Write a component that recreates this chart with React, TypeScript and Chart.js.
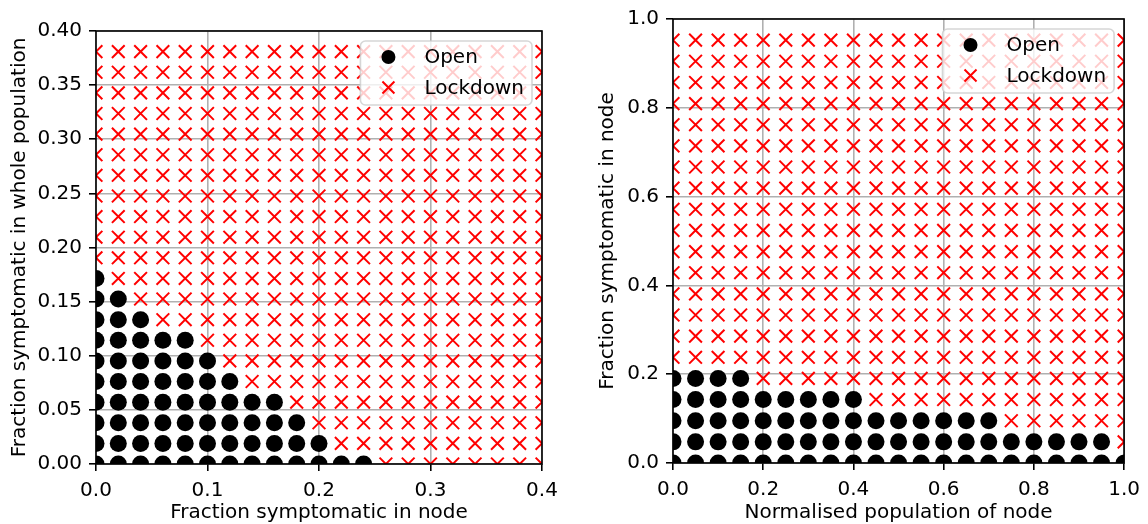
import React, { useEffect, useRef } from "react";
import { Chart, registerables } from "chart.js";

Chart.register(...registerables);

// ---------- data ----------
// Left panel: grid of evaluated points
const leftX = [0, 0.02, 0.04, 0.06, 0.08, 0.1, 0.12, 0.14, 0.16, 0.18, 0.2, 0.22, 0.24, 0.26, 0.28, 0.3, 0.32, 0.34, 0.36, 0.38, 0.4];
const leftY = [0, 0.019, 0.0381, 0.0571, 0.0762, 0.0952, 0.1143, 0.1333, 0.1524, 0.1714, 0.1905, 0.2095, 0.2286, 0.2476, 0.2667, 0.2857, 0.3048, 0.3238, 0.3429, 0.3619, 0.381];
// number of "Open" columns (from x = 0) in each row, bottom row first
const leftOpenPerRow = [13, 11, 10, 9, 7, 6, 5, 3, 2, 1, 0, 0, 0, 0, 0, 0, 0, 0, 0, 0, 0];
const leftXTicks = [0, 0.1, 0.2, 0.3, 0.4];
const leftYTicks = [0, 0.05, 0.1, 0.15, 0.2, 0.25, 0.3, 0.35, 0.4];

// Right panel
const rightX = [0, 0.05, 0.1, 0.15, 0.2, 0.25, 0.3, 0.35, 0.4, 0.45, 0.5, 0.55, 0.6, 0.65, 0.7, 0.75, 0.8, 0.85, 0.9, 0.95, 1.0];
const rightY = [0, 0.0476, 0.0952, 0.1429, 0.1905, 0.2381, 0.2857, 0.3333, 0.381, 0.4286, 0.4762, 0.5238, 0.5714, 0.619, 0.6667, 0.7143, 0.7619, 0.8095, 0.8571, 0.9048, 0.9524];
const rightOpenPerRow = [21, 20, 15, 9, 4, 0, 0, 0, 0, 0, 0, 0, 0, 0, 0, 0, 0, 0, 0, 0, 0];
const rightXTicks = [0, 0.2, 0.4, 0.6, 0.8, 1.0];
const rightYTicks = [0, 0.2, 0.4, 0.6, 0.8, 1.0];

const seriesLabels = ["Open", "Lockdown"];

// ---------- helpers ----------
function split(xs: number[], ys: number[], openPerRow: number[]) {
  const open: { x: number; y: number }[] = [];
  const lock: { x: number; y: number }[] = [];
  ys.forEach((y, r) => {
    xs.forEach((x, c) => {
      if (c < openPerRow[r]) open.push({ x, y });
      else lock.push({ x, y });
    });
  });
  return { open, lock };
}

const FONT = "'DejaVu Sans', 'Liberation Sans', sans-serif";

const framePlugin = {
  id: "frameLegend",
  afterDatasetsDraw(chart: any) {
    const { ctx, chartArea: a } = chart;
    ctx.save();
    // spines
    ctx.strokeStyle = "#000";
    ctx.lineWidth = 1.6;
    ctx.strokeRect(a.left, a.top, a.right - a.left, a.bottom - a.top);

    // legend box
    ctx.font = `20px ${FONT}`;
    const labels: string[] = chart.data.datasets.map((d: any) => d.label);
    const tw = Math.max(...labels.map((t) => ctx.measureText(t).width));
    const pad = 8, handle = 40, gap = 16;
    const w = pad * 2 + handle + gap + tw;
    const h = 64;
    const x0 = a.right - 10 - w;
    const y0 = a.top + 10;
    const r = 5;
    ctx.beginPath();
    ctx.moveTo(x0 + r, y0);
    ctx.lineTo(x0 + w - r, y0);
    ctx.arcTo(x0 + w, y0, x0 + w, y0 + r, r);
    ctx.lineTo(x0 + w, y0 + h - r);
    ctx.arcTo(x0 + w, y0 + h, x0 + w - r, y0 + h, r);
    ctx.lineTo(x0 + r, y0 + h);
    ctx.arcTo(x0, y0 + h, x0, y0 + h - r, r);
    ctx.lineTo(x0, y0 + r);
    ctx.arcTo(x0, y0, x0 + r, y0, r);
    ctx.closePath();
    ctx.fillStyle = "rgba(255,255,255,0.8)";
    ctx.fill();
    ctx.strokeStyle = "rgba(204,204,204,0.8)";
    ctx.lineWidth = 1.6;
    ctx.stroke();

    labels.forEach((t, i) => {
      const cy = y0 + 16 + i * 30.5;
      const cx = x0 + pad + handle / 2;
      if (i === 0) {
        ctx.beginPath();
        ctx.arc(cx, cy, 7, 0, Math.PI * 2);
        ctx.fillStyle = "#000";
        ctx.fill();
      } else {
        const d = 6;
        ctx.beginPath();
        ctx.moveTo(cx - d, cy - d);
        ctx.lineTo(cx + d, cy + d);
        ctx.moveTo(cx - d, cy + d);
        ctx.lineTo(cx + d, cy - d);
        ctx.strokeStyle = "#ff0000";
        ctx.lineWidth = 2;
        ctx.stroke();
      }
      ctx.fillStyle = "#000";
      ctx.textBaseline = "middle";
      ctx.textAlign = "left";
      ctx.fillText(t, x0 + pad + handle + gap, cy + 1);
    });
    ctx.restore();
  },
};

function makeConfig(opts: {
  xs: number[]; ys: number[]; openPerRow: number[];
  xMax: number; yMax: number; xTicks: number[]; yTicks: number[];
  xDigits: number; yDigits: number;
  xTitle: string; yTitle: string;
  padding: { left: number; right: number; top: number; bottom: number };
  yWidth: number; xHeight: number; yTitlePad: number;
}) {
  const { open, lock } = split(opts.xs, opts.ys, opts.openPerRow);
  const gridCommon = {
    color: "#b0b0b0",
    lineWidth: 1.6,
    drawTicks: true,
    tickLength: 7,
    tickColor: "#000",
    tickWidth: 1.6,
  };
  return {
    type: "scatter" as const,
    data: {
      datasets: [
        {
          label: seriesLabels[0],
          data: open,
          pointStyle: "circle",
          pointRadius: 8.5,
          backgroundColor: "#000",
          borderColor: "#000",
          borderWidth: 0,
          clip: 0,
        },
        {
          label: seriesLabels[1],
          data: lock,
          pointStyle: "crossRot",
          pointRadius: 9,
          backgroundColor: "#ff0000",
          borderColor: "#ff0000",
          borderWidth: 2,
          clip: 0,
        },
      ],
    },
    options: {
      animation: false,
      responsive: false,
      events: [],
      layout: { padding: opts.padding },
      plugins: { legend: { display: false }, tooltip: { enabled: false } },
      scales: {
        x: {
          type: "linear",
          min: 0,
          max: opts.xMax,
          afterBuildTicks: (s: any) => {
            s.ticks = opts.xTicks.map((v) => ({ value: v }));
          },
          afterFit: (s: any) => {
            s.height = opts.xHeight;
          },
          grid: gridCommon,
          border: { display: false },
          ticks: {
            autoSkip: false,
            maxRotation: 0,
            padding: 8,
            color: "#000",
            font: { family: FONT, size: 20 },
            callback: (v: any) => Number(v).toFixed(opts.xDigits),
          },
          title: {
            display: true,
            text: opts.xTitle,
            color: "#000",
            font: { family: FONT, size: 20 },
            padding: { top: 0, bottom: -1 },
          },
        },
        y: {
          type: "linear",
          min: 0,
          max: opts.yMax,
          afterBuildTicks: (s: any) => {
            s.ticks = opts.yTicks.map((v) => ({ value: v }));
          },
          afterFit: (s: any) => {
            s.width = opts.yWidth;
          },
          grid: gridCommon,
          border: { display: false },
          ticks: {
            autoSkip: false,
            padding: 7,
            color: "#000",
            font: { family: FONT, size: 20 },
            callback: (v: any) => Number(v).toFixed(opts.yDigits),
          },
          title: {
            display: true,
            text: opts.yTitle,
            color: "#000",
            font: { family: FONT, size: 20 },
            padding: { top: opts.yTitlePad, bottom: 0 },
          },
        },
      },
    },
    plugins: [framePlugin],
  };
}

function Panel(props: { config: any; left: number }) {
  const ref = useRef<HTMLCanvasElement | null>(null);
  useEffect(() => {
    if (!ref.current) return;
    const chart = new Chart(ref.current, props.config);
    return () => chart.destroy();
  }, []);
  return (
    <canvas
      ref={ref}
      width={574}
      height={524}
      style={{ position: "absolute", left: props.left, top: 0, width: 574, height: 524 }}
    />
  );
}

const leftConfig = makeConfig({
  xs: leftX, ys: leftY, openPerRow: leftOpenPerRow,
  xMax: 0.4, yMax: 0.4, xTicks: leftXTicks, yTicks: leftYTicks,
  xDigits: 1, yDigits: 2,
  xTitle: "Fraction symptomatic in node",
  yTitle: "Fraction symptomatic in whole population",
  padding: { left: 0, right: 32, top: 31, bottom: 0 },
  yWidth: 96, xHeight: 60, yTitlePad: 8,
});

const rightConfig = makeConfig({
  xs: rightX, ys: rightY, openPerRow: rightOpenPerRow,
  xMax: 1.0, yMax: 1.0, xTicks: rightXTicks, yTicks: rightYTicks,
  xDigits: 1, yDigits: 1,
  xTitle: "Normalised population of node",
  yTitle: "Fraction symptomatic in node",
  padding: { left: 0, right: 18, top: 19, bottom: 0 },
  yWidth: 99, xHeight: 61, yTitlePad: 22,
});

export default function App() {
  return (
    <div style={{ position: "absolute", left: 0, top: 0, width: 1148, height: 524, background: "#fff", overflow: "hidden" }}>
      <Panel config={leftConfig} left={0} />
      <Panel config={rightConfig} left={574} />
    </div>
  );
}
